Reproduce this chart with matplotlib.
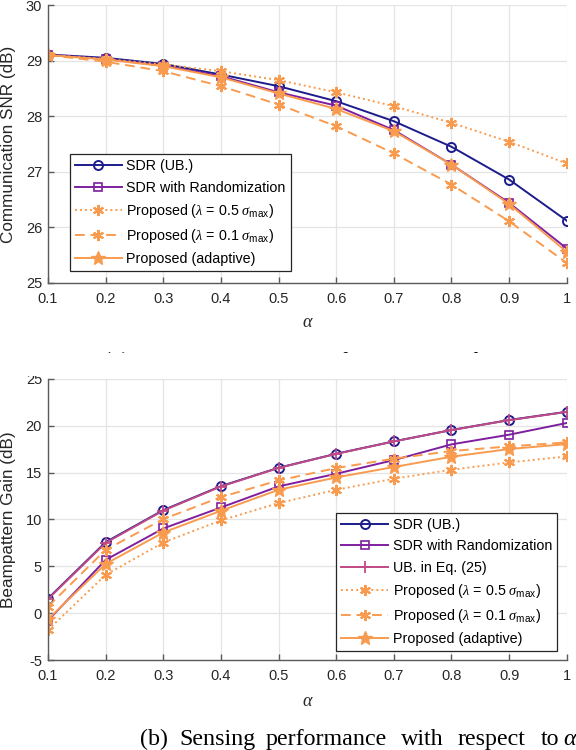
import matplotlib
matplotlib.use("Agg")
from matplotlib import pyplot as plt
from matplotlib.patches import Rectangle

alpha = [0.1, 0.2, 0.3, 0.4, 0.5, 0.6, 0.7, 0.8, 0.9, 1.0]
alpha_labels = ["0.1", "0.2", "0.3", "0.4", "0.5", "0.6", "0.7", "0.8", "0.9", "1"]

# (a) communication SNR (dB)
snr_sdr_ub = [29.11, 29.05, 28.94, 28.75, 28.54, 28.27, 27.91, 27.45, 26.86, 26.12]
snr_sdr_rand = [29.10, 29.03, 28.91, 28.72, 28.43, 28.19, 27.75, 27.13, 26.44, 25.62]
snr_lam05 = [29.10, 29.03, 28.93, 28.81, 28.65, 28.43, 28.18, 27.88, 27.54, 27.15]
snr_lam01 = [29.10, 28.98, 28.81, 28.54, 28.21, 27.82, 27.33, 26.77, 26.11, 25.36]
snr_adaptive = [29.10, 29.02, 28.90, 28.70, 28.41, 28.13, 27.73, 27.13, 26.42, 25.56]

# (b) beampattern gain (dB)
gain_sdr_ub = [1.56, 7.58, 11.0, 13.56, 15.52, 17.02, 18.34, 19.55, 20.62, 21.5]
gain_sdr_rand = [-0.79, 5.69, 9.04, 11.28, 13.53, 14.88, 16.34, 18.02, 19.05, 20.30]
gain_ub_eq25 = [1.50, 7.50, 10.95, 13.52, 15.50, 17.00, 18.33, 19.55, 20.60, 21.48]
gain_lam05 = [-1.79, 4.09, 7.54, 9.90, 11.75, 13.17, 14.35, 15.31, 16.09, 16.73]
gain_lam01 = [0.70, 6.76, 10.04, 12.39, 14.17, 15.49, 16.49, 17.31, 17.80, 18.23]
gain_adaptive = [-0.65, 5.26, 8.61, 10.93, 13.17, 14.49, 15.60, 16.70, 17.52, 18.05]

caption_a = ["(a)", "Communication", "performance", "with", "respect", "to", r"$\alpha$"]
caption_b = ["(b)", "Sensing", "performance", "with", "respect", "to", r"$\alpha$"]

navy = "#1c1c8c"
purple = "#7e1fa0"
pink = "#c04a86"
orange = "#f99b4e"

plt.rcParams["font.family"] = ["Liberation Sans", "DejaVu Sans"]
plt.rcParams["font.size"] = 10.5
plt.rcParams["axes.unicode_minus"] = False
plt.rcParams["mathtext.fontset"] = "custom"
plt.rcParams["mathtext.rm"] = "Liberation Sans"
plt.rcParams["mathtext.it"] = "Liberation Serif:italic"

lam05 = r"Proposed ($\lambda$ = 0.5 $\sigma_{\mathrm{max}}$)"
lam01 = r"Proposed ($\lambda$ = 0.1 $\sigma_{\mathrm{max}}$)"
ast = (6, 2, 0)


def style_axes(ax, yticks, ylim, ylabel, xlab_y):
    ax.set_xlim(0.1, 1.0)
    ax.set_ylim(*ylim)
    ax.set_xticks(alpha)
    ax.set_xticklabels(alpha_labels)
    ax.set_yticks(yticks)
    ax.grid(True, color="#e4e4e4", lw=0.9)
    ax.set_axisbelow(True)
    for s in ["top", "right"]:
        ax.spines[s].set_visible(False)
    for s in ["left", "bottom"]:
        ax.spines[s].set_color("#5a5a5a")
        ax.spines[s].set_linewidth(1.0)
    ax.tick_params(direction="in", length=4, width=1.0, color="#5a5a5a",
                   labelsize=10.5, labelcolor="#262626")
    ax.tick_params(axis="x", pad=6.5)
    ax.tick_params(axis="y", pad=4.3)
    ax.set_ylabel(ylabel, fontsize=12.3, color="#262626", va="center")
    ax.yaxis.set_label_coords(-0.077, 0.5)
    ax.set_xlabel(r"$\alpha$", fontsize=13, color="#262626", va="center")
    ax.xaxis.set_label_coords(0.5, xlab_y)


fig = plt.figure(figsize=(5.76, 7.5), dpi=100)
ax1 = fig.add_axes([0.0833, 0.6227, 0.9007, 0.3706])
ax2 = fig.add_axes([0.0833, 0.12, 0.9007, 0.3747])

lw = 1.4
ax1.plot(alpha, snr_sdr_ub, color=navy, lw=lw, marker="o", ms=6.5, mfc="none", mew=1.4, label="SDR (UB.)")
ax1.plot(alpha, snr_sdr_rand, color=purple, lw=lw, marker="s", ms=5.5, mfc="none", mew=1.2, label="SDR with Randomization")
ax1.plot(alpha, snr_lam05, color=orange, lw=lw, ls=(0, (1, 1.6)), marker=ast, ms=8, mew=1.5, label=lam05)
ax1.plot(alpha, snr_lam01, color=orange, lw=lw, ls=(0, (5, 3)), marker=ast, ms=8, mew=1.5, label=lam01)
ax1.plot(alpha, snr_adaptive, color=orange, lw=lw, marker="*", ms=10, label="Proposed (adaptive)")
style_axes(ax1, [25, 26, 27, 28, 29, 30], (25, 30), "Communication SNR (dB)", -0.144)

ax2.plot(alpha, gain_sdr_ub, color=navy, lw=lw, marker="o", ms=6.5, mfc="none", mew=1.4, label="SDR (UB.)")
ax2.plot(alpha, gain_sdr_rand, color=purple, lw=lw, marker="s", ms=5.5, mfc="none", mew=1.2, label="SDR with Randomization")
ax2.plot(alpha, gain_ub_eq25, color=pink, lw=lw, marker="+", ms=8, mew=1.3, label="UB. in Eq. (25)")
ax2.plot(alpha, gain_lam05, color=orange, lw=lw, ls=(0, (1, 1.6)), marker=ast, ms=8, mew=1.5, label=lam05)
ax2.plot(alpha, gain_lam01, color=orange, lw=lw, ls=(0, (5, 3)), marker=ast, ms=8, mew=1.5, label=lam01)
ax2.plot(alpha, gain_adaptive, color=orange, lw=lw, marker="*", ms=10, label="Proposed (adaptive)")
style_axes(ax2, [-5, 0, 5, 10, 15, 20, 25], (-5, 25), "Beampattern Gain (dB)", -0.149)

for ax, loc, anchor in [(ax1, "lower left", (0.042, 0.043)), (ax2, "lower right", (0.981, 0.032))]:
    leg = ax.legend(loc=loc, bbox_to_anchor=anchor, fontsize=10.3, handlelength=3.3,
                    handletextpad=0.3, borderpad=0.35, labelspacing=0.5, borderaxespad=0,
                    fancybox=False, framealpha=1, edgecolor="#262626")
    leg.get_frame().set_linewidth(0.9)

# captions, placed word by word (justified LaTeX spacing)
xa = [103, 138, 310, 444, 485, 561, 590]
xb = [140, 179, 266, 401, 458, 541, 563]
for word, x in zip(caption_a, xa):
    fig.text(x / 576, (750 - 368) / 750, word, family="Liberation Serif", fontsize=17.3, va="baseline")
for word, x in zip(caption_b, xb):
    fig.text(x / 576, (750 - 745) / 750, word, family="Liberation Serif", fontsize=17.3, va="baseline")

# the lower panel covers most of caption (a)
fig.patches.append(Rectangle((0, (750 - 376) / 750), 1, 23 / 750, transform=fig.transFigure,
                             facecolor="white", edgecolor="none", zorder=5))

fig.savefig("out.png", dpi=100)
